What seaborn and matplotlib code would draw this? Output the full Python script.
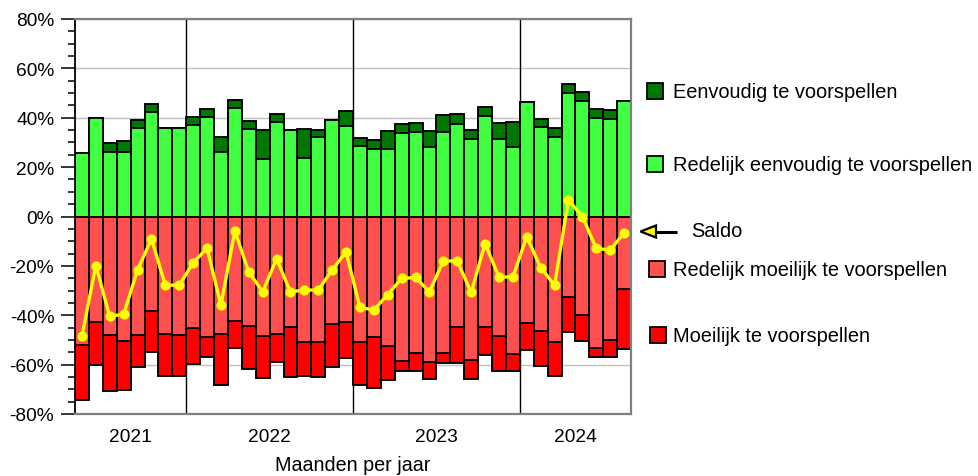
import numpy as np
import pandas as pd
import matplotlib
matplotlib.use("Agg")
import matplotlib.pyplot as plt
from matplotlib.patches import Rectangle, Polygon
from matplotlib.ticker import MultipleLocator, FuncFormatter
import seaborn as sns

# Months covered by the survey (May 2021 - Aug 2024)
maanden = [str(p) for p in pd.period_range("2021-05", "2024-08", freq="M")]
jaren = ["2021", "2022", "2023", "2024"]

# Share of respondents per answer (percent)
eenvoudig = [0, 0, 3.6, 4.3, 3.4, 3.5, 0, 0,
             3.3, 3.2, 6.0, 3.1, 3.3, 11.7, 3.2, 0, 11.7, 2.8, 0, 6.2,
             3.4, 3.7, 7.1, 3.8, 3.7, 6.7, 6.8, 3.8, 3.5, 3.7, 6.8, 10.0,
             0, 3.5, 3.4, 3.7, 3.5, 3.6, 3.6, 0]
redelijk_eenvoudig = [25.8, 40.0, 26.1, 26.1, 35.8, 42.2, 35.8, 35.8,
                      37.2, 40.4, 26.2, 44.1, 35.5, 23.2, 38.4, 35.0, 23.8, 32.3, 39.2, 36.6,
                      28.4, 27.4, 27.4, 33.8, 34.3, 28.0, 34.3, 37.6, 31.4, 40.8, 31.2, 28.2,
                      46.2, 36.1, 32.3, 50.1, 46.8, 40.0, 39.6, 46.8]
redelijk_moeilijk = [52.1, 42.6, 47.9, 50.6, 47.9, 38.4, 47.5, 48.0,
                     45.2, 49.0, 47.6, 42.5, 44.3, 48.3, 47.4, 44.7, 50.7, 50.7, 43.4, 42.9,
                     50.7, 49.0, 52.4, 58.6, 55.1, 59.0, 55.1, 44.8, 58.0, 44.9, 48.3, 55.5,
                     43.0, 46.4, 50.7, 32.8, 39.9, 53.2, 50.1, 29.4]
moeilijk = [22.4, 17.5, 22.8, 19.6, 13.1, 16.4, 17.0, 16.5,
            14.5, 7.8, 20.6, 10.8, 17.3, 17.0, 11.7, 20.5, 14.1, 14.2, 17.7, 14.3,
            17.6, 20.3, 13.7, 4.0, 7.4, 6.9, 4.3, 14.6, 7.9, 11.1, 14.2, 7.0,
            11.0, 14.1, 13.8, 13.9, 10.4, 3.6, 7.0, 24.3]
saldo = [-48.4, -19.9, -40.5, -39.5, -21.7, -9.1, -27.8, -27.8,
         -18.8, -12.8, -35.9, -5.9, -22.4, -30.5, -17.2, -30.5, -29.8, -29.8, -21.7, -14.3,
         -36.8, -37.9, -31.6, -25.1, -24.7, -30.5, -18.0, -18.0, -30.7, -11.0, -24.5, -24.5,
         -8.2, -20.7, -27.8, 6.7, 0.0, -12.9, -13.6, -6.7]

df = pd.DataFrame({
    "maand": maanden,
    "eenvoudig": eenvoudig,
    "redelijk_eenvoudig": redelijk_eenvoudig,
    "redelijk_moeilijk": redelijk_moeilijk,
    "moeilijk": moeilijk,
    "saldo": saldo,
})
df["jaar"] = df["maand"].str[:4]
df["pos_totaal"] = df["redelijk_eenvoudig"] + df["eenvoudig"]
df["neg_redelijk"] = -df["redelijk_moeilijk"]
df["neg_totaal"] = -(df["redelijk_moeilijk"] + df["moeilijk"])

C_DG = "#007700"
C_LG = "#40FF40"
C_LR = "#FF5050"
C_R = "#FF0000"
C_SALDO = "#FFFF00"

sns.set_theme(style="white")
plt.rcParams["font.family"] = ["Liberation Sans", "DejaVu Sans"]
plt.rcParams["text.color"] = "black"
plt.rcParams["axes.labelcolor"] = "black"
plt.rcParams["xtick.color"] = "black"
plt.rcParams["ytick.color"] = "black"

fig = plt.figure(figsize=(9.79, 4.77), dpi=100)
ax = fig.add_axes([75 / 979, 1 - 415 / 477, (631 - 75) / 979, (415 - 20) / 477])

bar_kw = dict(x="maand", errorbar=None, width=1.0, saturation=1,
              edgecolor="black", linewidth=1.35, ax=ax, order=maanden)
# Stacks are drawn as cumulative totals, the inner segment painted on top
sns.barplot(data=df, y="pos_totaal", color=C_DG, **bar_kw)
sns.barplot(data=df, y="redelijk_eenvoudig", color=C_LG, **bar_kw)
sns.barplot(data=df, y="neg_totaal", color=C_R, **bar_kw)
sns.barplot(data=df, y="neg_redelijk", color=C_LR, **bar_kw)

sns.pointplot(data=df, x="maand", y="saldo", order=maanden, color=C_SALDO,
              errorbar=None, markers="o", linestyles="-", ax=ax,
              linewidth=2.4, markersize=5.5)

# Year boundaries and year labels
per_jaar = df.groupby("jaar").size().reindex(jaren).to_numpy()
grenzen = np.cumsum(per_jaar)[:-1] - 0.5
midden = np.cumsum(per_jaar) - per_jaar / 2 - 0.5
for g in grenzen:
    ax.axvline(g, color="black", linewidth=1.0, zorder=0.8)

ax.set_xlim(-0.5, len(maanden) - 0.5)
ax.set_ylim(-80, 80)
ax.set_xticks(midden)
ax.set_xticklabels(jaren, fontsize=13.8)
ax.tick_params(axis="x", length=0, pad=10)
ax.set_xlabel("Maanden per jaar", fontsize=14.2, labelpad=7)
ax.set_ylabel("")

ax.yaxis.set_major_locator(MultipleLocator(20))
ax.yaxis.set_minor_locator(MultipleLocator(5))
ax.yaxis.set_major_formatter(FuncFormatter(lambda v, _: f"{v:.0f}%"))
ax.tick_params(axis="y", which="major", direction="out", length=10, width=1.1,
               color="black", labelsize=13.8, pad=5, left=True)
ax.tick_params(axis="y", which="minor", direction="out", length=5, width=1.1,
               color="black", left=True)

ax.yaxis.grid(True, color="#c0c0c0", linewidth=1.0)
ax.xaxis.grid(False)
ax.set_axisbelow(True)
for s in ["top", "right", "bottom"]:
    ax.spines[s].set_color("#808080")
    ax.spines[s].set_linewidth(1.6)
ax.spines["left"].set_color("black")
ax.spines["left"].set_linewidth(1.3)

# Legend panel on the right, drawn in pixel coordinates
lg = fig.add_axes([0, 0, 1, 1], facecolor="none")
lg.set_xlim(0, 979)
lg.set_ylim(477, 0)
lg.axis("off")

items = [
    ("Eenvoudig te voorspellen", C_DG, 647, 92),
    ("Redelijk eenvoudig te voorspellen", C_LG, 647, 165),
    ("Redelijk moeilijk te voorspellen", C_LR, 649, 269.5),
    ("Moeilijk te voorspellen", C_R, 650, 336),
]
for label, kleur, x0, yc in items:
    lg.add_patch(Rectangle((x0, yc - 8), 16, 16, facecolor=kleur,
                           edgecolor="black", linewidth=1.3))
    lg.text(673, yc + 1, label, fontsize=14.4, va="center", ha="left")

lg.plot([655, 677], [232.5, 232.5], color="black", linewidth=2.2,
        solid_capstyle="butt")
lg.add_patch(Polygon([[640.5, 232.5], [656, 226.5], [656, 238.5]], closed=True,
                     facecolor=C_SALDO, edgecolor="black", linewidth=1.6))
lg.text(691, 231.5, "Saldo", fontsize=14.4, va="center", ha="left")

fig.savefig("out.png", dpi=100)
